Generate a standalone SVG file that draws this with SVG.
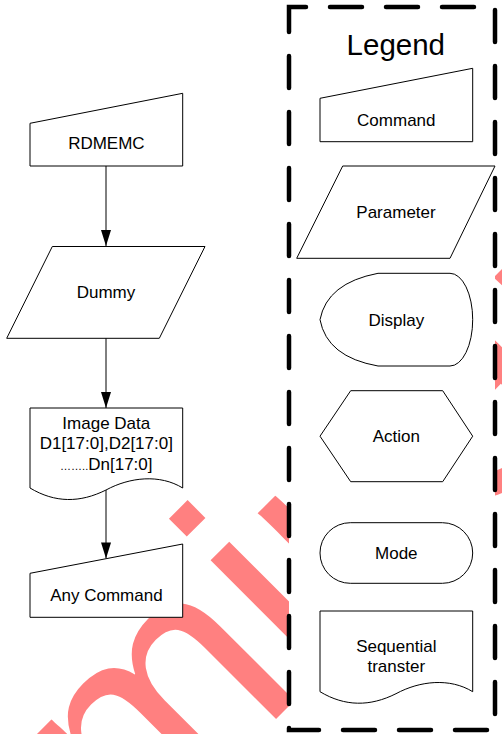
<svg xmlns="http://www.w3.org/2000/svg" width="502" height="734" viewBox="0 0 502 734">
<style>
.shape{fill:#fff;stroke:#000;stroke-width:1}
.lbl{font-family:"Liberation Sans",Arial,sans-serif;font-size:17px;fill:#000;text-anchor:middle}
.conn{stroke:#000;stroke-width:1;fill:none}
.wm{font-family:"Liberation Sans",Arial,sans-serif;font-size:300px;fill:#FF8080}
</style>
<defs>
<marker id="arr" markerUnits="userSpaceOnUse" markerWidth="12" markerHeight="18" viewBox="0 0 12 18" refX="6" refY="17" orient="auto-start-reverse">
<path d="M1,1 L11,1 L6,17 Z" fill="#000" transform="rotate(-90 6 9)"/>
</marker>
<marker id="ah" markerUnits="userSpaceOnUse" markerWidth="18" markerHeight="12" viewBox="0 0 18 12" refX="17" refY="6" orient="auto">
<path d="M1,1 L17,6 L1,11 Z" fill="#000"/>
</marker>
</defs>
<rect width="502" height="734" fill="#fff"/>
<text class="wm" transform="translate(-292.6,1287.7) rotate(-45)">Preliminary</text>

<g id="connectors">
<line class="conn" x1="106" y1="166" x2="106" y2="246" marker-end="url(#ah)"/>
<line class="conn" x1="106" y1="338" x2="106" y2="408" marker-end="url(#ah)"/>
<line class="conn" x1="106" y1="490" x2="106" y2="558.5" marker-end="url(#ah)"/>
</g>

<g id="rdmemc">
<path class="shape" d="M30,123.3 L182.7,93.3 L182.7,166 L30,166 Z"/>
<text class="lbl" x="106.4" y="149">RDMEMC</text>
</g>
<g id="dummy">
<path class="shape" d="M52.3,246.5 L205,246.5 L159.3,338.3 L6.7,338.3 Z"/>
<text class="lbl" x="106" y="298">Dummy</text>
</g>
<g id="imagedata">
<path class="shape" d="M30,408 L182.7,408 L182.7,488 C160,474 130,477 106,490 C80,503 55,503 30,488 Z"/>
<text class="lbl" x="106.3" y="428.5">Image Data</text>
<text class="lbl" x="106.3" y="449">D1[17:0],D2[17:0]</text>
<text class="lbl" x="106.3" y="469.5"><tspan font-size="11">……..</tspan>Dn[17:0]</text>
</g>
<g id="anycommand">
<path class="shape" d="M30,573.3 L182.7,544 L182.7,617.3 L30,617.3 Z"/>
<text class="lbl" x="106.4" y="601">Any Command</text>
</g>

<g id="legend">
<rect x="289" y="7" width="206" height="723" fill="#fff"/>
<path d="M289,22 L289,7 L495,7 L495,730 L289,730 Z" fill="none" stroke="#000" stroke-width="4.5" stroke-linecap="round" stroke-dasharray="32 24"/>
<text x="395.8" y="55" font-family="Liberation Sans, Arial, sans-serif" font-size="29.5" text-anchor="middle" fill="#000">Legend</text>
</g>
<g id="legend-command">
<path class="shape" d="M320,98.3 L472.7,68.3 L472.7,141.7 L320,141.7 Z"/>
<text class="lbl" x="396.3" y="126">Command</text>
</g>
<g id="legend-parameter">
<path class="shape" d="M342.7,166 L495,166 L450,258.3 L296.7,258.3 Z"/>
<text class="lbl" x="396" y="218">Parameter</text>
</g>
<g id="legend-display">
<path class="shape" d="M378,273.3 L450,273.3 A22.7,46.35 0 0 1 450,366 L378,366 Q327,357 320,319.7 Q327,283 378,273.3 Z"/>
<text class="lbl" x="396.3" y="325.5">Display</text>
</g>
<g id="legend-action">
<path class="shape" d="M350.7,390.7 L442.7,390.7 L472.7,436.2 L442.7,481.7 L350.7,481.7 L320,436.2 Z"/>
<text class="lbl" x="396.3" y="442">Action</text>
</g>
<g id="legend-mode">
<rect class="shape" x="320" y="522.7" width="152.7" height="60.6" rx="30.3" ry="30.3"/>
<text class="lbl" x="396.3" y="559">Mode</text>
</g>
<g id="legend-sequential">
<path class="shape" d="M320,611 L472.7,611 L472.7,691.7 C450,677.7 420,680.7 396,693.7 C370,706.7 345,706.7 320,691.7 Z"/>
<text class="lbl" x="396.3" y="652">Sequential</text>
<text class="lbl" x="396.3" y="672">transter</text>
</g>
</svg>
